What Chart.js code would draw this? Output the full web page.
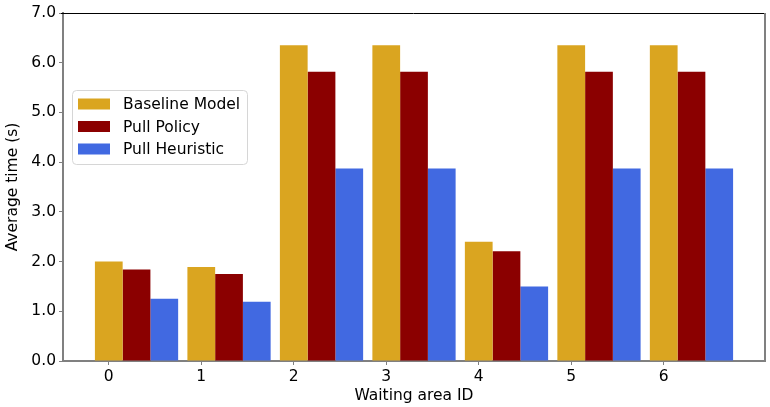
<!DOCTYPE html>
<html>
<head>
<meta charset="utf-8">
<script src="https://cdn.jsdelivr.net/npm/chart.js@4/dist/chart.umd.min.js"></script>
<style>
  html, body { margin: 0; padding: 0; background: #fff; }
  #wrap { width: 770px; height: 407px; position: relative; }
</style>
</head>
<body>
<div id="wrap"><canvas id="c" width="770" height="407"></canvas></div>
<script>
const categories = ['0', '1', '2', '3', '4', '5', '6'];
const baselineModel = [2.0, 1.89, 6.35, 6.35, 2.4, 6.35, 6.35];
const pullPolicy = [1.84, 1.75, 5.82, 5.82, 2.21, 5.82, 5.82];
const pullHeuristic = [1.25, 1.19, 3.87, 3.87, 1.5, 3.87, 3.87];
const seriesNames = ['Baseline Model', 'Pull Policy', 'Pull Heuristic'];
const yTicks = [0, 1, 2, 3, 4, 5, 6, 7];

const FONT = 'DejaVu Sans';
const FS = 15.5;
const BAR_W = 0.3;          // width of one bar in category units
const XT_MIN = -0.495, XT_MAX = 7.095;

const frame = {
  id: 'frame',
  afterDatasetsDraw(chart) {
    const { ctx, chartArea: a } = chart;
    ctx.save();
    ctx.strokeStyle = '#000';
    ctx.lineWidth = 1;
    ctx.beginPath();
    ctx.moveTo(a.left - 2, a.top + 0.5);
    ctx.lineTo(a.right + 1, a.top + 0.5);
    ctx.stroke();
    ctx.strokeStyle = '#808080';
    ctx.lineWidth = 2;
    ctx.beginPath();
    ctx.moveTo(a.right, a.top);
    ctx.lineTo(a.right, a.bottom);
    ctx.stroke();
    ctx.restore();
  }
};

const boxLegend = {
  id: 'boxLegend',
  afterDraw(chart) {
    const { ctx, chartArea: a } = chart;
    const x0 = a.left + 9, y0 = 90, w = 175, h = 74, r = 4;
    ctx.save();
    ctx.fillStyle = 'rgba(255,255,255,0.8)';
    ctx.strokeStyle = '#d6d6d6';
    ctx.lineWidth = 1;
    ctx.beginPath();
    ctx.roundRect(x0 + 0.5, y0 + 0.5, w, h, r);
    ctx.fill();
    ctx.stroke();
    ctx.font = FS + 'px "' + FONT + '"';
    ctx.textBaseline = 'middle';
    chart.data.datasets.forEach((ds, i) => {
      const cy = y0 + 14 + i * 22.5;
      ctx.fillStyle = ds.backgroundColor;
      ctx.fillRect(x0 + 6, cy - 5.5, 32, 11);
      ctx.fillStyle = '#000';
      ctx.fillText(ds.label, x0 + 51, cy + 1);
    });
    ctx.restore();
  }
};

new Chart(document.getElementById('c'), {
  type: 'bar',
  data: {
    labels: categories,
    datasets: [
      { label: seriesNames[0], data: baselineModel, backgroundColor: '#DAA520' },
      { label: seriesNames[1], data: pullPolicy, backgroundColor: '#8B0000' },
      { label: seriesNames[2], data: pullHeuristic, backgroundColor: '#4169E1' }
    ]
  },
  options: {
    responsive: false,
    animation: false,
    devicePixelRatio: 1,
    layout: { padding: { top: 13, right: 5, left: 0, bottom: 0 } },
    datasets: { bar: { categoryPercentage: 0.9, barPercentage: 1.0, borderWidth: 0 } },
    plugins: { legend: { display: false }, tooltip: { enabled: false } },
    scales: {
      x: {
        type: 'linear', display: false, offset: false,
        min: XT_MIN - BAR_W, max: XT_MAX - BAR_W,
        ticks: { stepSize: 1, includeBounds: false },
        grid: { offset: false }
      },
      xt: {
        type: 'linear', position: 'bottom', offset: false,
        min: XT_MIN, max: XT_MAX,
        afterBuildTicks(s) {
          s.ticks = categories.map((c, i) => ({ value: i }));
        },
        ticks: {
          stepSize: 1, includeBounds: false, autoSkip: false, maxRotation: 0,
          padding: 3, color: '#000', font: { family: FONT, size: FS },
          callback: (v) => categories[v]
        },
        grid: { offset: false, drawOnChartArea: false, drawTicks: true, tickLength: 4, color: '#808080', lineWidth: 1 },
        border: { display: true, color: '#808080', width: 2 },
        title: { display: true, text: 'Waiting area ID', color: '#000',
                 font: { family: FONT, size: FS }, padding: { top: 0, bottom: 2 } },
        afterFit(s) { s.height = 46; }
      },
      y: {
        min: 0, max: 7,
        afterBuildTicks(s) { s.ticks = yTicks.map(v => ({ value: v })); },
        ticks: { stepSize: 1, padding: 3, color: '#000', font: { family: FONT, size: FS },
                 callback: (v) => Number(v).toFixed(1) },
        grid: { drawOnChartArea: false, drawTicks: true, tickLength: 4, color: '#808080', lineWidth: 1 },
        border: { display: true, color: '#808080', width: 2 },
        title: { display: true, text: 'Average time (s)', color: '#000',
                 font: { family: FONT, size: FS }, padding: { top: 4, bottom: 0 } },
        afterFit(s) { s.width = 63; }
      }
    }
  },
  plugins: [frame, boxLegend]
});
</script>
</body>
</html>
